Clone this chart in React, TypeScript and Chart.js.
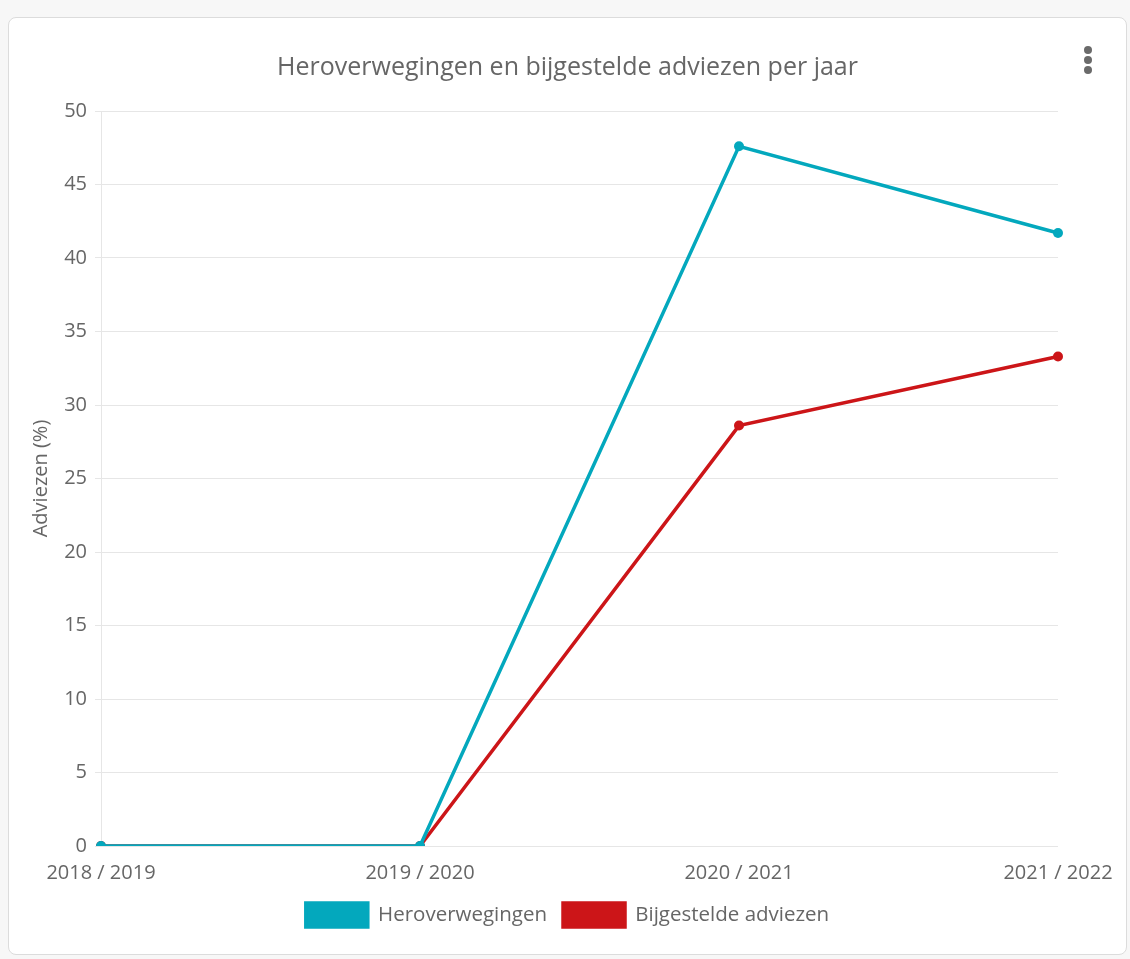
import React, { useEffect, useRef } from "react";
import { Chart, registerables } from "chart.js";

Chart.register(...registerables);

const categories = ["2018 / 2019", "2019 / 2020", "2020 / 2021", "2021 / 2022"];
const heroverwegingen = [0, 0, 47.6, 41.7];
const bijgesteld = [0, 0, 28.6, 33.3];
const seriesNames = ["Heroverwegingen", "Bijgestelde adviezen"];
const titleText = "Heroverwegingen en bijgestelde adviezen per jaar";
const yTitle = "Adviezen (%)";

const TEAL = "#03a8bd";
const RED = "#cc1518";
const FONT = "'Open Sans', 'Noto Sans', sans-serif";

export default function App() {
  const ref = useRef<HTMLCanvasElement | null>(null);

  useEffect(() => {
    if (!ref.current) return;
    const chart = new Chart(ref.current, {
      type: "line",
      data: {
        labels: categories,
        datasets: [
          {
            label: seriesNames[0],
            data: heroverwegingen,
            borderColor: TEAL,
            backgroundColor: TEAL,
            borderWidth: 3.5,
            pointRadius: 5,
            pointBackgroundColor: TEAL,
            pointBorderWidth: 0,
            tension: 0,
          },
          {
            label: seriesNames[1],
            data: bijgesteld,
            borderColor: RED,
            backgroundColor: RED,
            borderWidth: 3.5,
            pointRadius: 5,
            pointBackgroundColor: RED,
            pointBorderWidth: 0,
            tension: 0,
          },
        ],
      },
      options: {
        animation: false,
        responsive: true,
        maintainAspectRatio: false,
        layout: { padding: { left: 10, right: 10, top: 0, bottom: 17 } },
        plugins: {
          title: {
            display: true,
            text: titleText,
            color: "#666",
            font: { family: FONT, size: 25, weight: "normal" },
            padding: { top: 35, bottom: 28 },
          },
          legend: {
            position: "bottom",
            labels: {
              boxWidth: 62,
              boxHeight: 24,
              color: "#666",
              font: { family: FONT, size: 20.5 },
              padding: 16,
            },
          },
          tooltip: { enabled: false },
        },
        scales: {
          x: {
            grid: { display: false, drawTicks: false },
            border: { display: false },
            ticks: { color: "#666", font: { family: FONT, size: 20 }, maxRotation: 0, padding: 15 },
            afterFit: (s: any) => {
              s.paddingLeft = 0;
              s.paddingRight = 68;
              s.height = 41;
            },
          },
          y: {
            min: 0,
            max: 50,
            ticks: { stepSize: 5, color: "#666", font: { family: FONT, size: 20 }, padding: 8 },
            grid: { color: "#e6e6e6", tickLength: 6, tickColor: "#e6e6e6" },
            border: { display: true, color: "#e6e6e6" },
            title: {
              display: true,
              text: yTitle,
              color: "#666",
              font: { family: FONT, size: 20 },
              padding: { top: 10, bottom: 8 },
            },
            afterFit: (s: any) => {
              s.width = 82;
              s.paddingTop = 0;
              s.paddingBottom = 0;
            },
          },
        },
      },
    });
    return () => chart.destroy();
  }, []);

  const dot: React.CSSProperties = {
    position: "absolute",
    width: 8,
    height: 8,
    borderRadius: "50%",
    background: "#6a6a6a",
    left: 1075,
  };

  return (
    <div style={{ position: "fixed", inset: 0, background: "#f7f7f7" }}>
      <div
        style={{
          position: "absolute",
          left: 8,
          top: 17,
          width: 1117,
          height: 936,
          background: "#fff",
          border: "1px solid #dcdcdc",
          borderRadius: 8,
        }}
      >
        <div style={{ position: "absolute", left: 0, top: 0, width: 1117, height: 936 }}>
          <canvas ref={ref} />
        </div>
        <div style={{ ...dot, top: 28 }} />
        <div style={{ ...dot, top: 38 }} />
        <div style={{ ...dot, top: 48 }} />
      </div>
    </div>
  );
}
